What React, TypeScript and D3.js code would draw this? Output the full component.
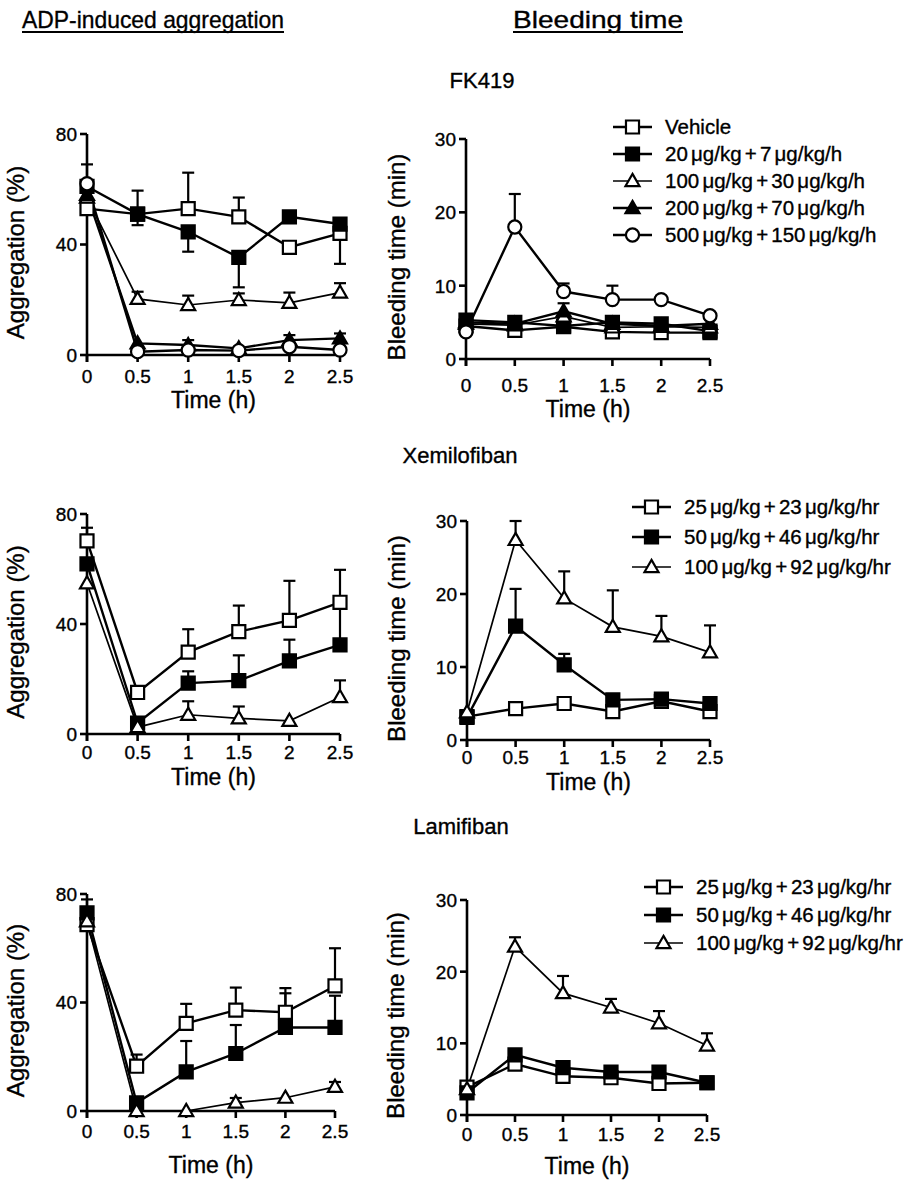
import React from "react";
import * as d3 from "d3";

// ---------- data ----------
const TIMES = [0, 0.5, 1, 1.5, 2, 2.5];
const X_TICK_LABELS = ["0", "0.5", "1", "1.5", "2", "2.5"];
const AGG_TICKS = [0, 40, 80];
const BT_TICKS = [0, 10, 20, 30];

const COL_HEADINGS = ["ADP-induced aggregation", "Bleeding time"];
const DRUGS = ["FK419", "Xemilofiban", "Lamifiban"];

const FK_LABELS = [
  "Vehicle",
  "20 μg/kg + 7 μg/kg/h",
  "100 μg/kg + 30 μg/kg/h",
  "200 μg/kg + 70 μg/kg/h",
  "500 μg/kg + 150 μg/kg/h",
];
const GP_LABELS = [
  "25 μg/kg + 23 μg/kg/hr",
  "50 μg/kg + 46 μg/kg/hr",
  "100 μg/kg + 92 μg/kg/hr",
];

// FK419 – aggregation (%)  (error: + up, - down, 0 none)
const FK_AGG_VEH = [53, 51, 53, 50, 39, 44];
const FK_AGG_VEH_ERR = [0, -4, 13, 7, 0, -11];
const FK_AGG_20 = [61, 51, 44.6, 35.3, 50, 47.4];
const FK_AGG_20_ERR = [8, 8.5, -7.2, -10.8, 0, 0];
const FK_AGG_100 = [57, 20.3, 18.1, 19.9, 18.9, 22.6];
const FK_AGG_100_ERR = [0, 2.6, 3.4, 2.4, 3.7, 3.4];
const FK_AGG_200 = [58, 4.2, 3.6, 2.4, 5.4, 6];
const FK_AGG_200_ERR = [0, 0, 1.8, 0, 1.8, 1.8];
const FK_AGG_500 = [62, 1.2, 1.8, 1.6, 3, 1.8];
const FK_AGG_500_ERR = [0, 0, 0, 0, 0, 0];

// FK419 – bleeding time (min)
const FK_BT_VEH = [4.5, 3.9, 4.4, 3.7, 3.6, 3.6];
const FK_BT_20 = [5.3, 5.0, 4.5, 5.0, 4.8, 3.8];
const FK_BT_100 = [4.8, 4.6, 5.8, 4.3, 4.4, 4.3];
const FK_BT_200 = [5.0, 4.8, 6.5, 4.8, 4.5, 4.8];
const FK_BT_200_ERR = [0, 0, 1.1, 0, 0, 0];
const FK_BT_500 = [3.7, 18, 9.2, 8.1, 8.1, 5.9];
const FK_BT_500_ERR = [0, 4.5, 1.1, 1.9, 0.5, 0];
const NO_ERR = [0, 0, 0, 0, 0, 0];

// Xemilofiban
const XE_AGG_25 = [70.2, 15.1, 29.8, 37.2, 41.3, 47.9];
const XE_AGG_25_ERR = [4.8, 0, 8.3, 9.5, 14.4, 11.8];
const XE_AGG_50 = [61.9, 4, 18.5, 19.4, 26.6, 32.4];
const XE_AGG_50_ERR = [0, 0, 4.3, 9.2, 7.7, 15];
const XE_AGG_100 = [54.8, 2.5, 7, 5.7, 4.8, 13.4];
const XE_AGG_100_ERR = [0, 0, 4.9, 4.3, 0, 6.1];
const XE_BT_25 = [3.2, 4.3, 5, 3.9, 5.3, 3.9];
const XE_BT_50 = [3.1, 15.6, 10.3, 5.5, 5.6, 5];
const XE_BT_50_ERR = [0, 5.1, 1.5, 0, 0, 0];
const XE_BT_100 = [3.8, 27.4, 19.4, 15.5, 14.2, 12];
const XE_BT_100_ERR = [0, 2.6, 3.7, 5, 2.8, 3.7];

// Lamifiban
const LA_AGG_25 = [68.7, 16.5, 32.3, 37.2, 36.4, 46.1];
const LA_AGG_25_ERR = [0, 4.3, 7.2, 8.3, 8.9, 13.9];
const LA_AGG_50 = [73, 3, 14.4, 21.2, 30.8, 30.8];
const LA_AGG_50_ERR = [5, 0, 11.4, 10.5, 12.6, 11.7];
const LA_AGG_100 = [69.9, 0, 0, 3.1, 4.9, 8.9];
const LA_AGG_100_ERR = [0, 0, 0, 1.7, 0, 1.8];
const LA_BT_25 = [3.9, 7.1, 5.4, 5.2, 4.4, 4.5];
const LA_BT_50 = [3.1, 8.4, 6.6, 6, 6, 4.5];
const LA_BT_100 = [3.6, 23.5, 17, 15, 12.8, 9.7];
const LA_BT_100_ERR = [0, 1.3, 2.4, 1.2, 1.7, 1.7];

// ---------- styling ----------
const FONT = "'Liberation Sans', Arial, Helvetica, sans-serif";
const TXT = { fontFamily: FONT, fill: "#000", stroke: "#000", strokeWidth: 0.35 };
type Sym = "sqOpen" | "sqFill" | "triOpen" | "triFill" | "circOpen";
const FK_SYMS: Sym[] = ["sqOpen", "sqFill", "triOpen", "triFill", "circOpen"];
const GP_SYMS: Sym[] = ["sqOpen", "sqFill", "triOpen"];

type Series = { values: number[]; err: number[]; sym: Sym };

const mk = (vals: number[][], errs: number[][], syms: Sym[]): Series[] =>
  vals.map((v, i) => ({ values: v, err: errs[i], sym: syms[i] }));

function symbolPath(sym: Sym): string {
  const gen = d3.symbol();
  if (sym === "sqOpen" || sym === "sqFill") return gen.type(d3.symbolSquare).size(170)() as string;
  if (sym === "circOpen") return gen.type(d3.symbolCircle).size(135)() as string;
  return gen.type(d3.symbolTriangle).size(85)() as string;
}

function Marker({ sym, x, y }: { sym: Sym; x: number; y: number }) {
  const filled = sym === "sqFill" || sym === "triFill";
  const dy = sym === "triOpen" || sym === "triFill" ? 1 : 0;
  return (
    <path
      d={symbolPath(sym)}
      transform={`translate(${x},${y + dy})`}
      fill={filled ? "#000" : "#fff"}
      stroke="#000"
      strokeWidth={2.2}
    />
  );
}

type PanelCfg = {
  x0: number;
  x1: number;
  yTop: number;
  yBot: number;
  yMax: number;
  yTicks: number[];
  yTitle: string;
  tickDy: number;
  titleDy: number;
  yTitleDx: number;
  series: Series[];
  legend?: { labels: string[]; syms: Sym[]; lx: number; ly: number; dy: number };
};

function Panel({ cfg }: { cfg: PanelCfg }) {
  const x = d3.scaleLinear().domain([0, 2.5]).range([cfg.x0, cfg.x1]);
  const y = d3.scaleLinear().domain([0, cfg.yMax]).range([cfg.yBot, cfg.yTop]);
  const line = d3
    .line<number>()
    .x((_, i) => x(TIMES[i]))
    .y((d) => y(d));
  const axisX = cfg.x0;
  const midY = (cfg.yTop + cfg.yBot) / 2;
  const midX = (cfg.x0 + cfg.x1) / 2;
  return (
    <g>
      {/* error bars */}
      {cfg.series.map((s, si) =>
        s.values.map((v, i) =>
          s.err[i] === 0 ? null : (
            <g key={`e${si}-${i}`} stroke="#000" strokeWidth={2.2}>
              <line x1={x(TIMES[i])} x2={x(TIMES[i])} y1={y(v)} y2={y(v + s.err[i])} />
              <line x1={x(TIMES[i]) - 6} x2={x(TIMES[i]) + 6} y1={y(v + s.err[i])} y2={y(v + s.err[i])} />
            </g>
          )
        )
      )}
      {/* axes */}
      <line x1={axisX} x2={axisX} y1={cfg.yBot + 7} y2={cfg.yTop} stroke="#000" strokeWidth={2.6} />
      <line x1={axisX} x2={cfg.x1} y1={cfg.yBot} y2={cfg.yBot} stroke="#000" strokeWidth={2.6} />
      {cfg.yTicks.map((t) => (
        <g key={`yt${t}`}>
          <line x1={axisX - 7} x2={axisX} y1={y(t)} y2={y(t)} stroke="#000" strokeWidth={2.6} />
          <text x={axisX - 10} y={y(t)} dy="0.36em" textAnchor="end" fontSize={19} {...TXT}>
            {t}
          </text>
        </g>
      ))}
      {TIMES.map((t, i) => (
        <g key={`xt${i}`}>
          <line x1={x(t)} x2={x(t)} y1={cfg.yBot} y2={cfg.yBot + 7} stroke="#000" strokeWidth={2.6} />
          <text x={x(t)} y={cfg.yBot + cfg.tickDy} textAnchor="middle" fontSize={19} {...TXT}>
            {X_TICK_LABELS[i]}
          </text>
        </g>
      ))}
      <text x={midX} y={cfg.yBot + cfg.titleDy} textAnchor="middle" fontSize={23} {...TXT}>
        Time (h)
      </text>
      <text
        transform={`translate(${axisX - cfg.yTitleDx},${midY + 8}) rotate(-90)`}
        textAnchor="middle"
        fontSize={24}
        {...TXT}
      >
        {cfg.yTitle}
      </text>
      {/* lines */}
      {cfg.series.map((s, si) => (
        <path
          key={`l${si}`}
          d={line(s.values) as string}
          fill="none"
          stroke="#000"
          strokeWidth={s.sym === "triOpen" ? 1.7 : 2.4}
        />
      ))}
      {/* markers */}
      {cfg.series.map((s, si) =>
        s.values.map((v, i) => <Marker key={`m${si}-${i}`} sym={s.sym} x={x(TIMES[i])} y={y(v)} />)
      )}
      {/* legend */}
      {cfg.legend &&
        cfg.legend.labels.map((lab, i) => {
          const ly = cfg.legend!.ly + i * cfg.legend!.dy;
          const lx = cfg.legend!.lx;
          const sym = cfg.legend!.syms[i];
          return (
            <g key={`lg${i}`}>
              <line x1={lx} x2={lx + 39} y1={ly} y2={ly} stroke="#000" strokeWidth={sym === "triOpen" ? 1.7 : 2.4} />
              <Marker sym={sym} x={lx + 19.5} y={ly} />
              <text x={lx + 52} y={ly} dy="0.36em" fontSize={20.5} wordSpacing={-2.5} {...TXT}>
                {lab}
              </text>
            </g>
          );
        })}
    </g>
  );
}

const PANELS: PanelCfg[] = [
  {
    x0: 87, x1: 340, yTop: 134, yBot: 355, yMax: 80, yTicks: AGG_TICKS, yTitle: "Aggregation (%)",
    tickDy: 28, titleDy: 53, yTitleDx: 63,
    series: mk(
      [FK_AGG_VEH, FK_AGG_20, FK_AGG_100, FK_AGG_200, FK_AGG_500],
      [FK_AGG_VEH_ERR, FK_AGG_20_ERR, FK_AGG_100_ERR, FK_AGG_200_ERR, FK_AGG_500_ERR],
      FK_SYMS
    ),
  },
  {
    x0: 466, x1: 710, yTop: 139, yBot: 359, yMax: 30, yTicks: BT_TICKS, yTitle: "Bleeding time (min)",
    tickDy: 33, titleDy: 58, yTitleDx: 61,
    series: mk(
      [FK_BT_VEH, FK_BT_20, FK_BT_100, FK_BT_200, FK_BT_500],
      [NO_ERR, NO_ERR, NO_ERR, FK_BT_200_ERR, FK_BT_500_ERR],
      FK_SYMS
    ),
    legend: { labels: FK_LABELS, syms: FK_SYMS, lx: 613, ly: 127, dy: 27 },
  },
  {
    x0: 87, x1: 340, yTop: 514, yBot: 734, yMax: 80, yTicks: AGG_TICKS, yTitle: "Aggregation (%)",
    tickDy: 25, titleDy: 51, yTitleDx: 63,
    series: mk([XE_AGG_25, XE_AGG_50, XE_AGG_100], [XE_AGG_25_ERR, XE_AGG_50_ERR, XE_AGG_100_ERR], GP_SYMS),
  },
  {
    x0: 467, x1: 710, yTop: 521, yBot: 740, yMax: 30, yTicks: BT_TICKS, yTitle: "Bleeding time (min)",
    tickDy: 24, titleDy: 50, yTitleDx: 62,
    series: mk([XE_BT_25, XE_BT_50, XE_BT_100], [NO_ERR, XE_BT_50_ERR, XE_BT_100_ERR], GP_SYMS),
    legend: { labels: GP_LABELS, syms: GP_SYMS, lx: 632, ly: 507, dy: 30 },
  },
  {
    x0: 87, x1: 335, yTop: 894, yBot: 1111, yMax: 80, yTicks: AGG_TICKS, yTitle: "Aggregation (%)",
    tickDy: 27, titleDy: 62, yTitleDx: 63,
    series: mk([LA_AGG_25, LA_AGG_50, LA_AGG_100], [LA_AGG_25_ERR, LA_AGG_50_ERR, LA_AGG_100_ERR], GP_SYMS),
  },
  {
    x0: 467, x1: 707, yTop: 900, yBot: 1115, yMax: 30, yTicks: BT_TICKS, yTitle: "Bleeding time (min)",
    tickDy: 26, titleDy: 59, yTitleDx: 63,
    series: mk([LA_BT_25, LA_BT_50, LA_BT_100], [NO_ERR, NO_ERR, LA_BT_100_ERR], GP_SYMS),
    legend: { labels: GP_LABELS, syms: GP_SYMS, lx: 644, ly: 887, dy: 28 },
  },
];

const DRUG_POS = [
  { x: 482, y: 88 },
  { x: 460, y: 463 },
  { x: 461, y: 834 },
];
const HEAD_POS = [
  { x: 22, y: 28, w: 262 },
  { x: 513, y: 28, w: 170 },
];

export default function App() {
  return (
    <svg width={908} height={1183} style={{ display: "block", position: "absolute", left: 0, top: 0, background: "#fff" }}>
      <rect width={908} height={1183} fill="#fff" />
      {COL_HEADINGS.map((h, i) => (
        <g key={h}>
          <text
            x={HEAD_POS[i].x}
            y={HEAD_POS[i].y}
            fontSize={24}
            textLength={HEAD_POS[i].w}
            lengthAdjust="spacingAndGlyphs"
            {...TXT}
          >
            {h}
          </text>
          <line
            x1={HEAD_POS[i].x}
            x2={HEAD_POS[i].x + HEAD_POS[i].w}
            y1={HEAD_POS[i].y + 4}
            y2={HEAD_POS[i].y + 4}
            stroke="#000"
            strokeWidth={1.8}
          />
        </g>
      ))}
      {DRUGS.map((d, i) => (
        <text key={d} x={DRUG_POS[i].x} y={DRUG_POS[i].y} textAnchor="middle" fontSize={22} {...TXT}>
          {d}
        </text>
      ))}
      {PANELS.map((p, i) => (
        <Panel key={i} cfg={p} />
      ))}
    </svg>
  );
}
